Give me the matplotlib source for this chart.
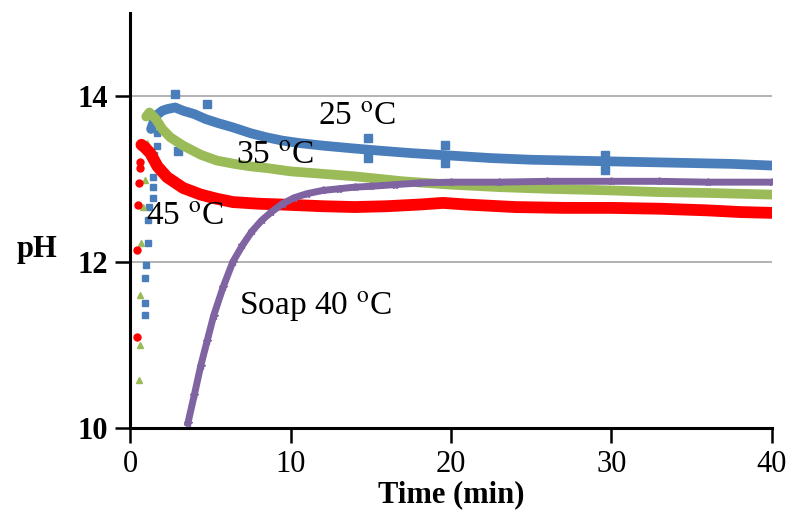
import matplotlib
matplotlib.use("Agg")
import matplotlib.pyplot as plt

plt.rcParams["font.family"] = ["Liberation Serif", "DejaVu Serif"]
plt.rcParams["mathtext.fontset"] = "stix"

# --- values (time in min, pH) ---
t25 = [1.3, 1.6, 2.0, 2.3, 2.8, 3.3, 4.0, 4.7, 5.5, 6.4, 7.5, 8.5, 9.5, 10.6, 12.0,
       13.7, 15.5, 17.5, 20, 22.5, 25, 27.5, 30, 32.5, 35, 37.5, 40]
ph25 = [13.6, 13.76, 13.82, 13.84, 13.86, 13.82, 13.78, 13.72, 13.67, 13.62, 13.55,
        13.5, 13.46, 13.43, 13.4, 13.37, 13.34, 13.31, 13.28, 13.25, 13.23, 13.22,
        13.21, 13.2, 13.19, 13.18, 13.16]
t25_early = [0.9, 0.95, 0.9, 1.0, 1.1, 1.1, 1.15, 1.4, 1.45, 1.45, 1.5, 1.7, 1.7, 1.75]
ph25_early = [11.36, 11.5, 11.8, 11.96, 12.23, 12.5, 12.66, 12.77, 12.9, 13.02,
              13.29, 13.39, 13.55, 13.65]
t25_spike = [2.8, 3.0, 4.8, 14.8, 14.8, 19.6, 19.6, 29.6, 29.6]
ph25_spike = [14.02, 13.33, 13.9, 13.49, 13.25, 13.41, 13.19, 13.29, 13.11]

t35 = [1.0, 1.2, 1.6, 2.0, 2.5, 3.3, 4.4, 5.4, 6.5, 7.5, 8.5, 10, 12, 14, 17, 20,
       23, 26, 30, 33, 36, 40]
ph35 = [13.75, 13.8, 13.72, 13.6, 13.5, 13.4, 13.29, 13.22, 13.18, 13.15, 13.13,
        13.09, 13.06, 13.03, 12.97, 12.93, 12.9, 12.88, 12.86, 12.84, 12.83, 12.81]
t35_early = [0.56, 0.6, 0.6, 0.7, 0.8, 0.9, 1.05]
ph35_early = [10.58, 11.0, 11.6, 12.23, 12.66, 12.99, 13.43]

t45 = [0.7, 0.9, 1.25, 1.7, 2.3, 3.3, 4.4, 5.4, 6.4, 8, 9.5, 12, 14, 16, 18, 19.5,
       21, 24, 27, 30, 33, 36, 38, 40]
ph45 = [13.41, 13.38, 13.31, 13.15, 13.02, 12.89, 12.81, 12.76, 12.72, 12.7, 12.69,
        12.67, 12.66, 12.67, 12.69, 12.71, 12.69, 12.66, 12.65, 12.65, 12.64, 12.62,
        12.6, 12.59]
t45_early = [0.44, 0.44, 0.5, 0.55, 0.6, 0.6]
ph45_early = [11.1, 12.14, 12.69, 12.95, 13.13, 13.2]

tsoap = [3.6, 4.0, 4.4, 4.8, 5.2, 5.8, 6.4, 7.0, 7.6, 8.2, 8.8, 9.5, 10.2, 11, 12,
         13, 14, 15, 16.5, 18, 20, 23, 26, 30, 33, 36, 40]
phsoap = [10.06, 10.4, 10.75, 11.05, 11.35, 11.7, 12.0, 12.2, 12.37, 12.5, 12.6,
          12.7, 12.77, 12.82, 12.86, 12.88, 12.9, 12.91, 12.93, 12.95, 12.96, 12.96,
          12.97, 12.97, 12.97, 12.96, 12.96]

C25, C35, C45, CSOAP = "#4a7ebb", "#9bbb59", "#ff0000", "#8064a2"

fig = plt.figure(figsize=(7.94, 5.13), dpi=100)
ax = fig.add_axes([0.164, 0.166, 0.808, 0.809])

ax.plot(t25, ph25, color=C25, lw=7, solid_capstyle="round", zorder=3)
ax.plot(t25_early, ph25_early, ls="none", marker="s", ms=5, color=C25, zorder=3)
ax.plot(t25_spike, ph25_spike, ls="none", marker="s", ms=6, color=C25, zorder=3)

ax.plot(t35, ph35, color=C35, lw=7, solid_capstyle="round", zorder=3)
ax.plot(t35_early, ph35_early, ls="none", marker="^", ms=4, color=C35, zorder=3)

ax.plot(t45, ph45, color=C45, lw=8.5, solid_capstyle="round", zorder=3)
ax.plot(t45_early, ph45_early, ls="none", marker="o", ms=5, color=C45, zorder=3)

ax.plot(tsoap, phsoap, color=CSOAP, lw=5, marker="*", ms=6, zorder=4)

ax.set_xlim(0, 40)
ax.set_ylim(10, 15)
ax.set_xticks([0, 10, 20, 30, 40])
ax.set_yticks([10, 12, 14])
ax.grid(axis="y", color="#a6a6a6", lw=1.2, zorder=0)
for s in ("top", "right"):
    ax.spines[s].set_visible(False)
for s in ("left", "bottom"):
    ax.spines[s].set_linewidth(2.2)
ax.tick_params(direction="out", length=11, width=1.8, labelsize=22, pad=5)
for lab in ax.get_yticklabels():
    lab.set_fontweight("bold")

ax.set_xlabel("Time (min)", fontsize=22, fontweight="bold", labelpad=1)
ax.set_ylabel("pH", fontsize=22, fontweight="bold", rotation=0, va="center")
ax.yaxis.set_label_coords(-0.145, 0.43)

kw = dict(fontsize=24, va="center", ha="left")
ax.text(11.7, 13.75, r"25 $^{\mathrm{o}}$C", **kw)
ax.text(6.6, 13.28, r"35 $^{\mathrm{o}}$C", **kw)
ax.text(1.0, 12.55, r"45 $^{\mathrm{o}}$C", **kw)
ax.text(6.8, 11.46, r"Soap 40 $^{\mathrm{o}}$C", **kw)

fig.savefig("out.png", dpi=100)
